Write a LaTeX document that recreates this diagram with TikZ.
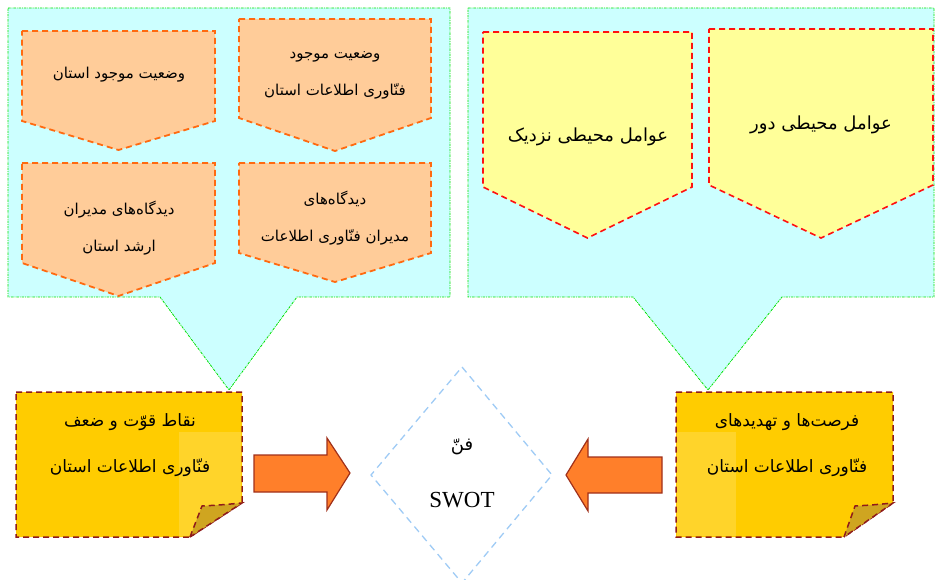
\documentclass[tikz,border=0pt]{standalone}
\usepackage{fontspec}
\setmainfont{Liberation Serif}
\newfontfamily\arabicfont[Script=Arabic]{DejaVu Sans}
\TeXXeTstate=1
\newcommand{\pers}[1]{{\arabicfont\beginR #1\endR}}
\definecolor{cyanbg}{HTML}{CCFFFF}
\definecolor{greenline}{HTML}{00E000}
\definecolor{peach}{HTML}{FFCC99}
\definecolor{orangeline}{HTML}{FF6A10}
\definecolor{lightyel}{HTML}{FFFF99}
\definecolor{redline}{HTML}{FF1010}
\definecolor{notegold}{HTML}{FFCC00}
\definecolor{notelight}{HTML}{FFD42A}
\definecolor{folddark}{HTML}{CFA520}
\definecolor{notered}{HTML}{8E1B1B}
\definecolor{arrowfill}{HTML}{FF7F2A}
\definecolor{arrowdraw}{HTML}{A0301A}
\definecolor{diamondblue}{HTML}{9FCBF5}
\tikzset{
  callout/.style={fill=cyanbg, draw=greenline, line width=0.8pt, dash pattern=on 2.5pt off 1pt on 0.8pt off 1pt},
  peachbox/.style={fill=peach, draw=orangeline, line width=1.8pt, dash pattern=on 6pt off 4pt},
  yelbox/.style={fill=lightyel, draw=redline, line width=1.6pt, dash pattern=on 6pt off 4pt},
  notebox/.style={fill=notegold, draw=notered, line width=1.5pt, dash pattern=on 6pt off 4pt},
  foldbox/.style={fill=folddark, draw=notered, line width=1.5pt, dash pattern=on 6pt off 4pt},
  bigarrow/.style={fill=arrowfill, draw=arrowdraw, line width=1.2pt, line join=miter},
  swotbox/.style={draw=diamondblue, line width=1.3pt, dash pattern=on 7pt off 5pt},
  smalltxt/.style={align=center, font=\fontsize{15}{37}\selectfont},
  yeltxt/.style={align=center, font=\fontsize{18}{30}\selectfont},
  notetxt/.style={align=center, font=\fontsize{17}{46}\selectfont},
}
\begin{document}
\begin{tikzpicture}[x=1pt,y=-1pt]
\useasboundingbox (0,0) rectangle (935,580);
% callouts
\draw[callout] (8,8) -- (450,8) -- (450,297) -- (297,297) -- (229,390) -- (160,297) -- (8,297) -- cycle;
\draw[callout] (468,8) -- (934,8) -- (934,297) -- (782,297) -- (708,390) -- (633,297) -- (468,297) -- cycle;
% peach pentagons
\draw[peachbox] (22,31) -- (215,31) -- (215,121) -- (118.5,150) -- (22,121) -- cycle;
\draw[peachbox] (239,19) -- (431,19) -- (431,118) -- (335,151) -- (239,118) -- cycle;
\draw[peachbox] (22,163) -- (215,163) -- (215,263) -- (118.5,296) -- (22,263) -- cycle;
\draw[peachbox] (239,163) -- (431,163) -- (431,253) -- (335,282) -- (239,253) -- cycle;
\node[smalltxt] (tA) at (119,75) {\pers{وضعیت موجود استان}};
\node[smalltxt] (tB) at (335,75) {\pers{وضعیت موجود}\\\pers{فنّاوری اطلاعات استان}};
\node[smalltxt] (tC) at (119,228) {\pers{دیدگاه^^^^200cهای مدیران}\\\pers{ارشد استان}};
\node[smalltxt] (tD) at (335,218) {\pers{دیدگاه^^^^200cهای}\\\pers{مدیران فنّاوری اطلاعات}};
% yellow pentagons
\draw[yelbox] (483,32) -- (692,32) -- (692,187) -- (587.5,238) -- (483,187) -- cycle;
\draw[yelbox] (709,29) -- (933,29) -- (933,185) -- (821,238) -- (709,185) -- cycle;
\node[yeltxt] (tE) at (588,137) {\pers{عوامل محیطی نزدیک}};
\node[yeltxt] (tF) at (821,125) {\pers{عوامل محیطی دور}};
% left note
\draw[notebox] (16,392) -- (242,392) -- (242,503) -- (190,537) -- (16,537) -- cycle;
\fill[notelight] (179,432) -- (241,432) -- (241,502) -- (191,536) -- (179,536) -- cycle;
\draw[foldbox] (190,537) -- (202,506) .. controls (220,505) .. (242,503) -- cycle;
\node[notetxt] (tL) at (130,445) {\pers{نقاط قوّت و ضعف}\\\pers{فنّاوری اطلاعات استان}};
% right note
\draw[notebox] (676,392) -- (893,392) -- (893,503) -- (844,537) -- (676,537) -- cycle;
\fill[notelight] (677,432) rectangle (736,536);
\draw[foldbox] (844,537) -- (855,506) .. controls (872,505) .. (893,503) -- cycle;
\node[notetxt] (tR) at (787,445) {\pers{فرصت^^^^200cها و تهدیدهای}\\\pers{فنّاوری اطلاعات استان}};
% arrows
\draw[bigarrow] (254,455) -- (327,455) -- (327,438) -- (350,473) -- (327,510) -- (327,492) -- (254,492) -- cycle;
\draw[bigarrow] (662,457) -- (588,457) -- (588,439) -- (566,475) -- (588,511) -- (588,493) -- (662,493) -- cycle;
% diamond
\draw[swotbox] (462,367) -- (552,475) -- (462,583) -- (371,475) -- cycle;
\node[font=\fontsize{18}{20}\selectfont] (tFan) at (462,447) {\pers{فنّ}};
\node[font=\fontsize{23}{26}\selectfont] (tSwot) at (462,500) {SWOT};
\end{tikzpicture}
\end{document}
